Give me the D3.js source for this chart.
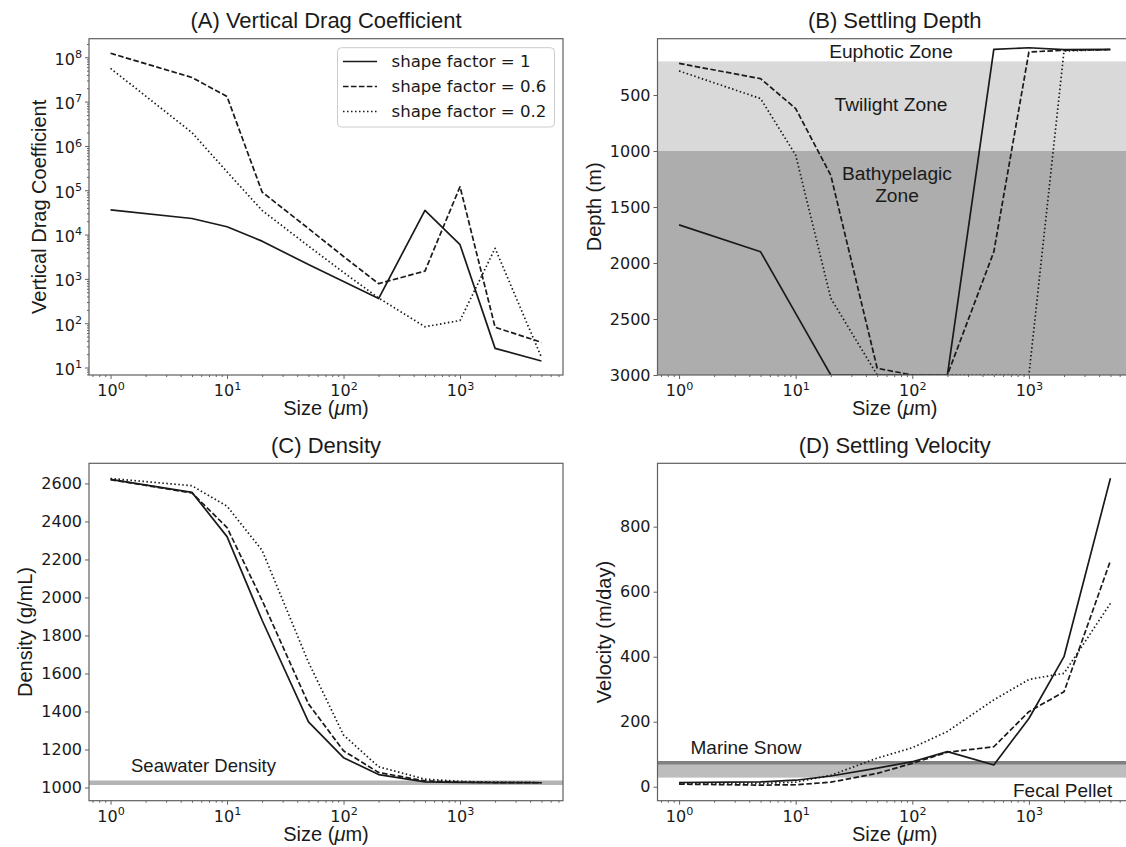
<!DOCTYPE html>
<html><head><meta charset="utf-8">
<script src="https://cdn.jsdelivr.net/npm/d3@7"></script>
<style>
body{margin:0;background:#fff;}
svg{display:block;}
.title,.alabel,.annot{font-family:"Liberation Sans",Arial,sans-serif;fill:#1a1a1a;}
.tick text,.leg text{font-family:"DejaVu Sans",sans-serif;fill:#1a1a1a;}
</style></head><body>
<svg id="fig" width="1126" height="847"></svg>
<script>
// ---------------- data ----------------
const sizes = [1, 5, 10, 20, 50, 100, 200, 500, 1000, 2000, 5000];
const shapeFactors = ["1", "0.6", "0.2"];

const dragSF1  = [3.6e4, 2.3e4, 1.5e4, 7.1e3, 2.1e3, 870, 360, 3.5e4, 5.9e3, 27, 14];
const dragSF06 = [1.23e8, 3.5e7, 1.3e7, 9.1e4, 1.37e4, 3.2e3, 780, 1.5e3, 1.2e5, 81, 37];
const dragSF02 = [5.6e7, 2.0e6, 2.6e5, 3.5e4, 5.5e3, 1.4e3, 370, 83, 115, 4.9e3, 17];

const depthSF1  = [1660, 1900, 2450, 3000, 3000, 3000, 3000, 93, 78, 95, 93];
const depthSF06 = [218, 354, 621, 1217, 2940, 3000, 3000, 1900, 116, 101, 95];
const depthSF02 = [285, 532, 1037, 2315, 3000, 3000, 3000, 3000, 3000, 107, 95];

const densitySF1  = [2621, 2553, 2320, 1880, 1345, 1157, 1068, 1030, 1027, 1026, 1025];
const densitySF06 = [2620, 2550, 2368, 1985, 1440, 1193, 1079, 1035, 1028, 1026, 1025];
const densitySF02 = [2626, 2588, 2480, 2248, 1659, 1276, 1109, 1044, 1032, 1028, 1026];

const velocitySF1  = [13, 15, 20, 33, 57, 77, 108, 67, 210, 400, 949];
const velocitySF06 = [8, 5, 6, 14, 41, 72, 106, 123, 231, 292, 695];
const velocitySF02 = [10, 10, 14, 35, 88, 120, 170, 267, 330, 349, 564];

const xTicks = [1, 10, 100, 1000];
const dragTicks = [1e1, 1e2, 1e3, 1e4, 1e5, 1e6, 1e7, 1e8];
const depthTicks = [500, 1000, 1500, 2000, 2500, 3000];
const densityTicks = [1000, 1200, 1400, 1600, 1800, 2000, 2200, 2400, 2600];
const velocityTicks = [0, 200, 400, 600, 800];

const zoneBounds = [0, 200, 1000, 3000];          // euphotic / twilight / bathypelagic (m)
const seawaterDensity = 1025;
const fecalPelletBand = [28, 74];
const marineSnowVelocity = 74;

// ---------------- layout ----------------
const svg = d3.select("#fig");
const xDomain = [Math.pow(10, -0.185), Math.pow(10, 3.884)];
const P = {
  A: {x0: 89, x1: 563, y0: 38.7, y1: 375},
  B: {x0: 657.5, x1: 1132, y0: 38.7, y1: 375},
  C: {x0: 89, x1: 563, y0: 463.3, y1: 800.7},
  D: {x0: 657.5, x1: 1132, y0: 463.3, y1: 800.7}
};
const dashes = [null, "5.55,2.4", "1.5,2.5"];
const INK = "#1a1a1a";
const SPINE = "#606060";
const LW = 1.7;

function logMinor(domain) {
  const out = [];
  const lo = Math.floor(Math.log10(domain[0])), hi = Math.ceil(Math.log10(domain[1]));
  for (let k = lo; k <= hi; k++) for (let m = 2; m <= 9; m++) {
    const v = m * Math.pow(10, k);
    if (v >= domain[0] && v <= domain[1]) out.push(v);
  }
  return out;
}
function supLabels(sel, dy) {
  sel.each(function(d) {
    const t = d3.select(this);
    const e = Math.round(Math.log10(d));
    t.text(null);
    if (dy !== undefined) t.attr("dy", dy);
    t.append("tspan").text("10");
    t.append("tspan").attr("font-size", "11.2px").attr("dy", -6.7).text(e);
  });
}

function panel(key, y, series, opt) {
  const p = P[key];
  const x = d3.scaleLog().domain(xDomain).range([p.x0, p.x1]);
  const g = svg.append("g");
  const clipId = "clip" + key;
  svg.append("clipPath").attr("id", clipId).append("rect")
    .attr("x", p.x0).attr("y", p.y0).attr("width", p.x1 - p.x0).attr("height", p.y1 - p.y0);
  const plot = g.append("g").attr("clip-path", `url(#${clipId})`);
  if (opt.background) opt.background(plot, x, y, p);
  const line = d3.line().x((d, i) => x(sizes[i])).y(d => y(d));
  series.forEach((s, k) => {
    plot.append("path").attr("d", line(s)).attr("fill", "none")
      .attr("stroke", INK).attr("stroke-width", LW)
      .attr("stroke-linejoin", "round")
      .attr("stroke-dasharray", dashes[k]);
  });

  // x axis
  const xg = g.append("g").attr("transform", `translate(0,${p.y1})`)
    .call(d3.axisBottom(x).tickValues(xTicks).tickSize(4).tickPadding(6).tickFormat(d => d));
  xg.select(".domain").remove();
  xg.selectAll(".tick line").attr("stroke", SPINE);
  xg.selectAll(".tick text").attr("font-size", "16px");
  supLabels(xg.selectAll(".tick text"));
  const xm = g.append("g").attr("transform", `translate(0,${p.y1})`)
    .call(d3.axisBottom(x).tickValues(logMinor(xDomain)).tickSize(2).tickFormat(""));
  xm.select(".domain").remove();
  xm.selectAll(".tick line").attr("stroke", SPINE);

  // y axis
  const yAx = d3.axisLeft(y).tickValues(opt.yTicks).tickSize(4).tickPadding(3);
  if (!opt.yLog) yAx.tickFormat(d3.format("d"));
  const yg = g.append("g").attr("transform", `translate(${p.x0},0)`).call(yAx);
  yg.select(".domain").remove();
  yg.selectAll(".tick line").attr("stroke", SPINE);
  yg.selectAll(".tick text").attr("font-size", "16px");
  if (opt.yLog) {
    supLabels(yg.selectAll(".tick text"), 7);
    const ym = g.append("g").attr("transform", `translate(${p.x0},0)`)
      .call(d3.axisLeft(y).tickValues(logMinor(y.domain())).tickSize(2).tickFormat(""));
    ym.select(".domain").remove();
    ym.selectAll(".tick line").attr("stroke", SPINE);
  }

  // frame
  g.append("rect").attr("x", p.x0).attr("y", p.y0)
    .attr("width", p.x1 - p.x0).attr("height", p.y1 - p.y0)
    .attr("fill", "none").attr("stroke", SPINE).attr("stroke-width", 1.2);

  // labels
  const cx = (p.x0 + p.x1) / 2;
  g.append("text").attr("class", "title").attr("x", cx).attr("y", p.y0 - 10.7)
    .attr("text-anchor", "middle").attr("font-size", "22px").text(opt.title);
  const xl = g.append("text").attr("class", "alabel").attr("x", cx).attr("y", p.y1 + 40)
    .attr("text-anchor", "middle").attr("font-size", "20px");
  xl.append("tspan").text("Size (");
  xl.append("tspan").attr("font-style", "italic").text("\u03bc");
  xl.append("tspan").text("m)");
  const bb = yg.node().getBBox();
  const lx = p.x0 + bb.x - 9;
  g.append("text").attr("class", "alabel")
    .attr("transform", `translate(${lx},${(p.y0 + p.y1) / 2}) rotate(-90)`)
    .attr("text-anchor", "middle").attr("font-size", "20px").text(opt.ylabel);
  return {x, y, g};
}

// (A) Vertical Drag Coefficient
const yA = d3.scaleLog().domain([Math.pow(10, 0.831), Math.pow(10, 8.419)]).range([P.A.y1, P.A.y0]);
const pa = panel("A", yA, [dragSF1, dragSF06, dragSF02], {
  title: "(A) Vertical Drag Coefficient", ylabel: "Vertical Drag Coefficient",
  yTicks: dragTicks, yLog: true
});
// legend
const leg = pa.g.append("g").attr("class", "leg");
leg.append("rect").attr("x", 337.5).attr("y", 47.7).attr("width", 217).attr("height", 79.3)
  .attr("rx", 4).attr("fill", "#fff").attr("fill-opacity", 0.8)
  .attr("stroke", "#cccccc").attr("stroke-width", 1);
shapeFactors.forEach((sf, i) => {
  const by = 66.7 + i * 25;
  leg.append("line").attr("x1", 343).attr("x2", 377).attr("y1", by - 5.2).attr("y2", by - 5.2)
    .attr("stroke", INK).attr("stroke-width", LW).attr("stroke-dasharray", dashes[i]);
  leg.append("text").attr("x", 391.5).attr("y", by).attr("font-size", "16.6px")
    .text(`shape factor = ${sf}`);
});

// (B) Settling Depth
const yB = d3.scaleLinear().domain([0, 3000]).range([39, 375]);
panel("B", yB, [depthSF1, depthSF06, depthSF02], {
  title: "(B) Settling Depth", ylabel: "Depth (m)", yTicks: depthTicks,
  background: (plot, x, y, p) => {
    const fills = ["#ffffff", "#d9d9d9", "#adadad"];
    for (let i = 0; i < 3; i++) {
      plot.append("rect").attr("x", p.x0).attr("width", p.x1 - p.x0)
        .attr("y", y(zoneBounds[i])).attr("height", y(zoneBounds[i + 1]) - y(zoneBounds[i]))
        .attr("fill", fills[i]);
    }
    const t = (txt, xx, yy) => plot.append("text").attr("class", "annot").attr("x", xx).attr("y", yy)
      .attr("text-anchor", "middle").attr("font-size", "19.2px").text(txt);
    t("Euphotic Zone", 891, 57.5);
    t("Twilight Zone", 891, 110.5);
    t("Bathypelagic", 897, 180);
    t("Zone", 897, 201.7);
  }
});

// (C) Density
const yC = d3.scaleLinear().domain([930.5, 2706]).range([P.C.y1, P.C.y0]);
panel("C", yC, [densitySF1, densitySF06, densitySF02], {
  title: "(C) Density", ylabel: "Density (g/mL)", yTicks: densityTicks,
  background: (plot, x, y, p) => {
    plot.append("line").attr("x1", p.x0).attr("x2", p.x1)
      .attr("y1", y(seawaterDensity)).attr("y2", y(seawaterDensity))
      .attr("stroke", "#b4b4b4").attr("stroke-width", 4.3);
    plot.append("text").attr("class", "annot").attr("x", 131).attr("y", 772.3)
      .attr("font-size", "18.5px").text("Seawater Density");
  }
});

// (D) Settling Velocity
const yD = d3.scaleLinear().domain([-43, 995]).range([P.D.y1, P.D.y0]);
panel("D", yD, [velocitySF1, velocitySF06, velocitySF02], {
  title: "(D) Settling Velocity", ylabel: "Velocity (m/day)", yTicks: velocityTicks,
  background: (plot, x, y, p) => {
    plot.append("rect").attr("x", p.x0).attr("width", p.x1 - p.x0)
      .attr("y", y(fecalPelletBand[1])).attr("height", y(fecalPelletBand[0]) - y(fecalPelletBand[1]))
      .attr("fill", "#bdbdbd");
    plot.append("line").attr("x1", p.x0).attr("x2", p.x1)
      .attr("y1", y(marineSnowVelocity)).attr("y2", y(marineSnowVelocity))
      .attr("stroke", "#808080").attr("stroke-width", 3.5);
    plot.append("text").attr("class", "annot").attr("x", 690.5).attr("y", 753.5)
      .attr("font-size", "19px").text("Marine Snow");
    plot.append("text").attr("class", "annot").attr("x", 1013).attr("y", 796.5)
      .attr("font-size", "19px").text("Fecal Pellet");
  }
});
</script>
</body></html>
